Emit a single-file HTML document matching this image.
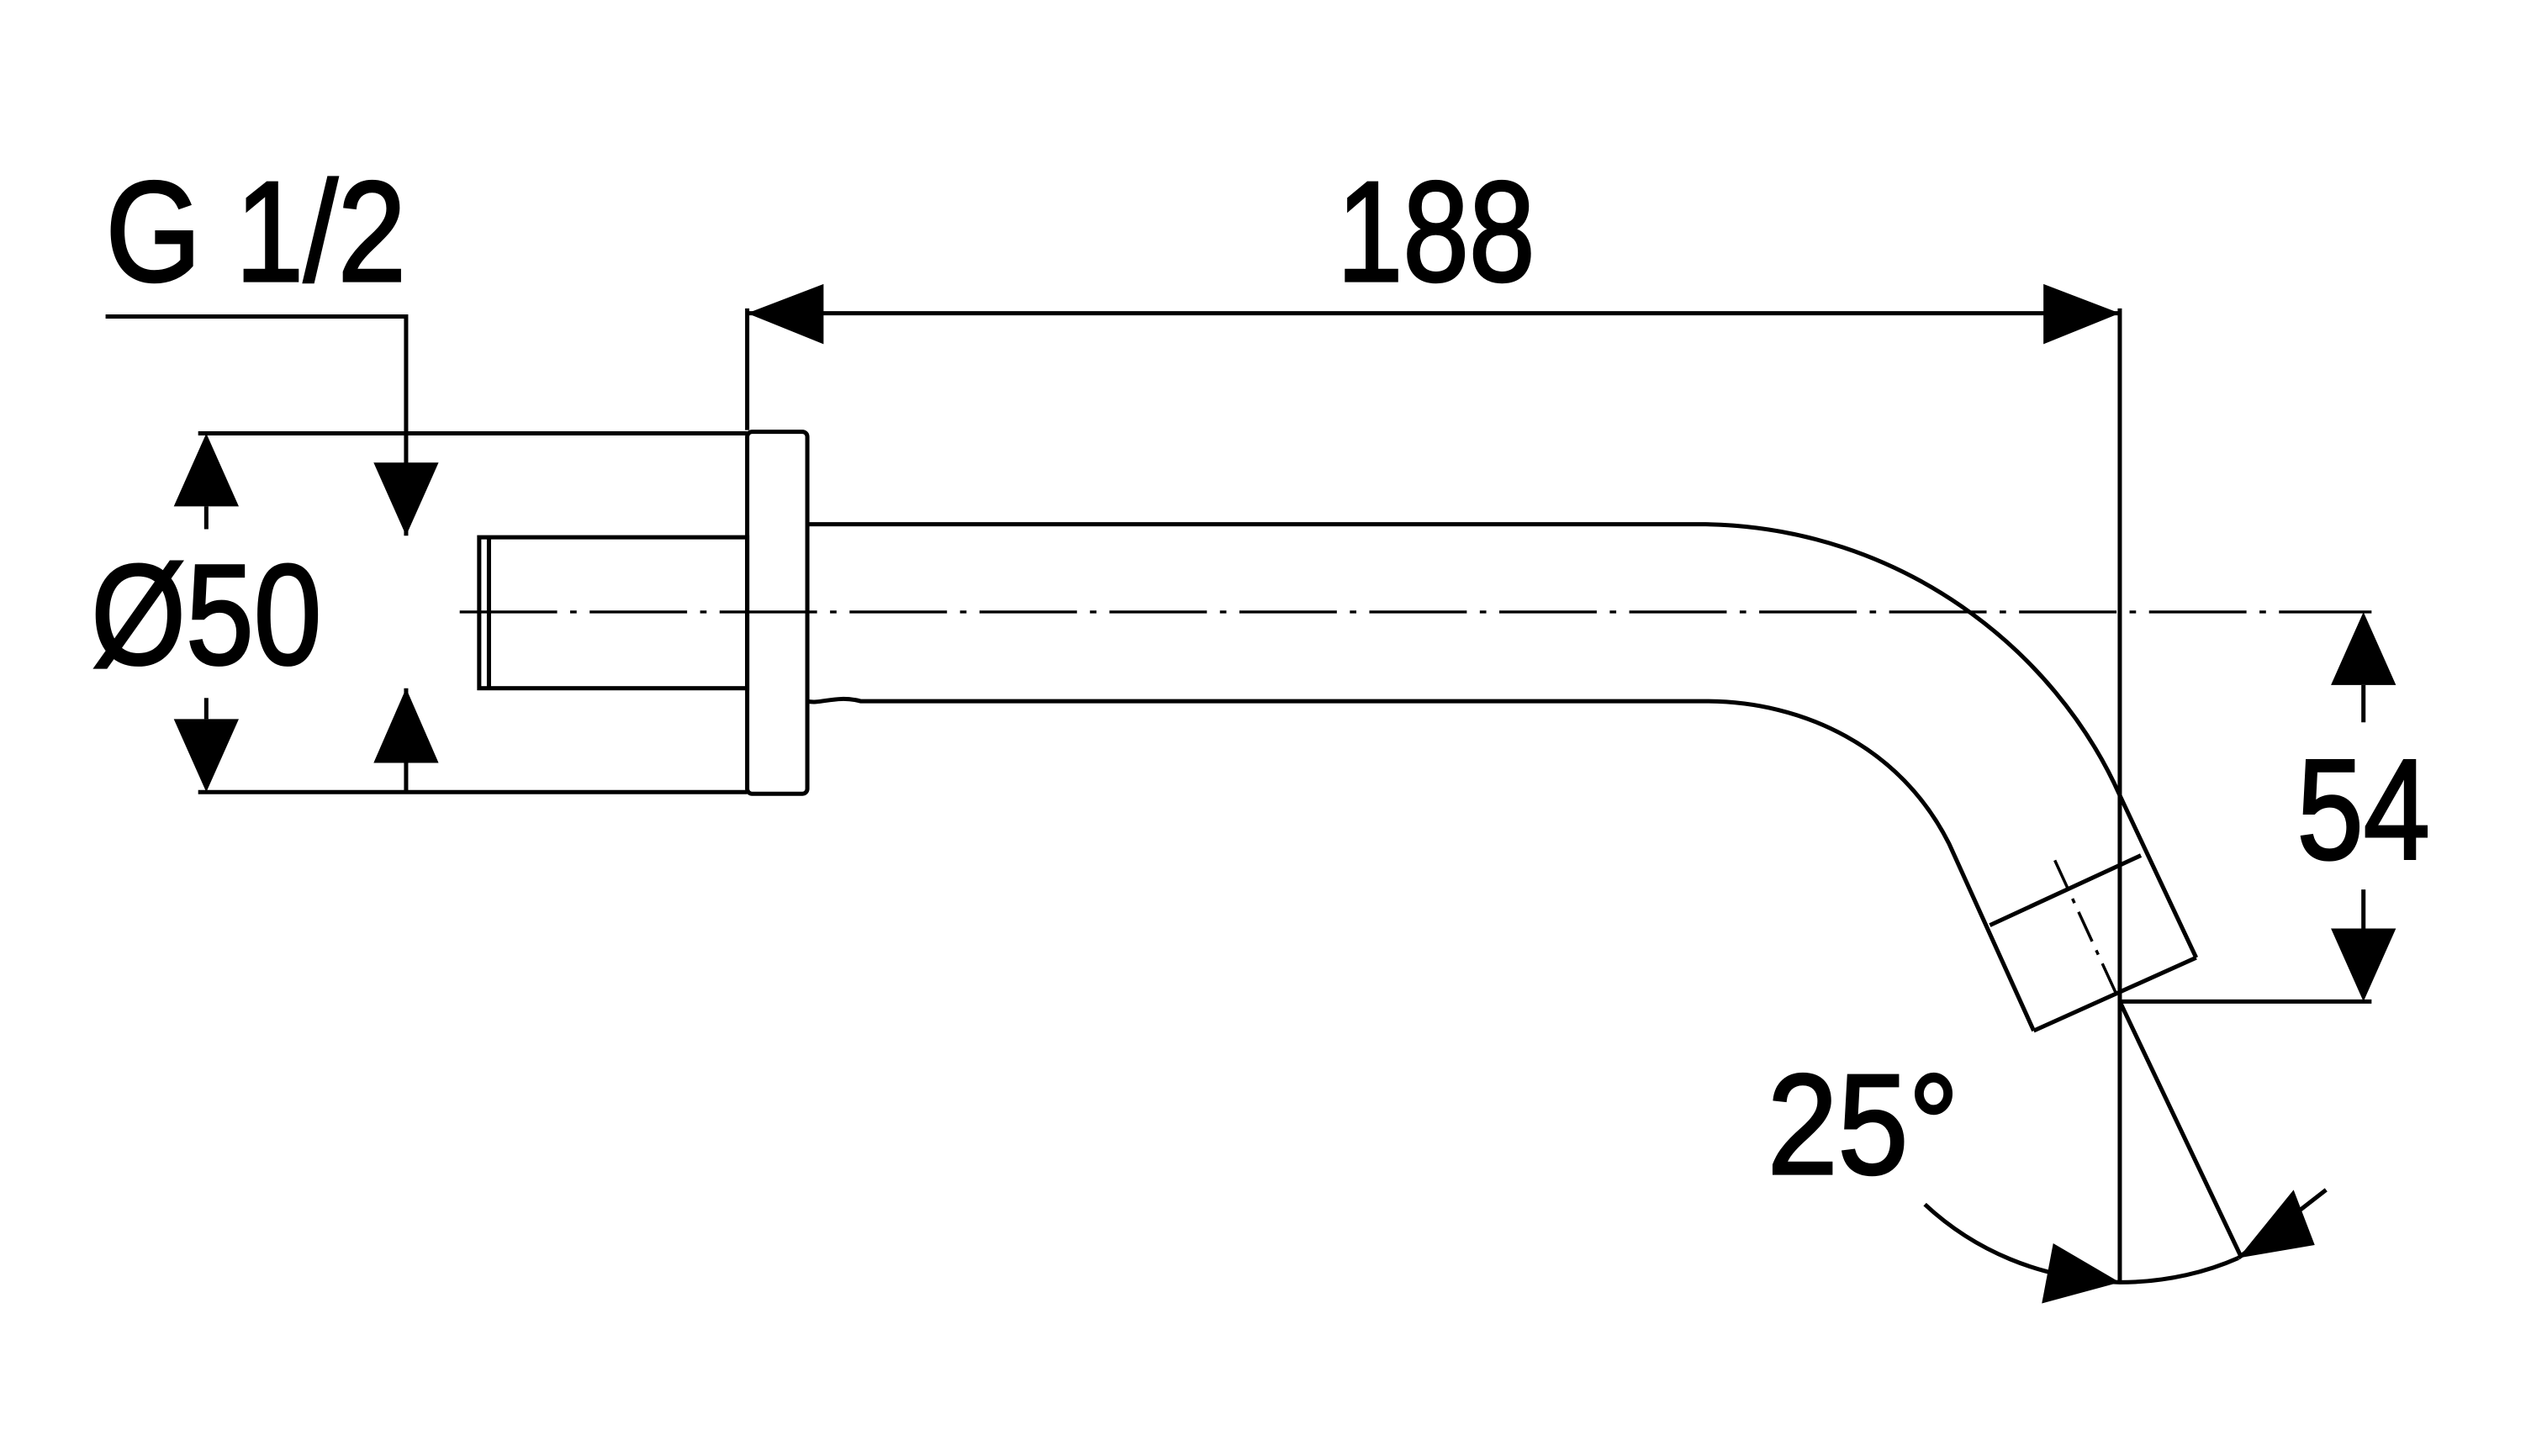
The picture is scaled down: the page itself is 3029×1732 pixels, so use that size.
<!DOCTYPE html>
<html><head><meta charset="utf-8"><style>
html,body{margin:0;padding:0;background:#fff}
svg{display:block}
text{font-family:"Liberation Sans",sans-serif;fill:#000;stroke:#000;stroke-width:1.6}
</style></head><body>
<svg width="3029" height="1732" viewBox="0 0 1568 897" preserveAspectRatio="none" xmlns="http://www.w3.org/2000/svg">
<g fill="none" stroke="#000" stroke-width="2.6">
<polyline points="65,195 250,195 250,330"/>
<line x1="250" y1="424" x2="250" y2="487"/>
<line x1="122" y1="267" x2="460" y2="267"/>
<line x1="122" y1="488" x2="460" y2="488"/>
<line x1="127" y1="312" x2="127" y2="326"/>
<line x1="127" y1="430" x2="127" y2="443"/>
<rect x="295" y="331" width="165" height="93"/>
<line x1="301" y1="331" x2="301" y2="424"/>
<rect x="460" y="266" width="37" height="223" rx="3"/>
<path d="M497,323 L1050,323 C1170,325 1265,400 1305,490 L1352,590"/>
<path d="M497,432 C505,434 515,428 530,432 L1050,432 C1110,432 1170,460 1200,520 L1252,635"/>
<line x1="1252" y1="635" x2="1352" y2="590"/>
<line x1="1225" y1="570" x2="1318" y2="527"/>
<line x1="283" y1="377" x2="1460" y2="377" stroke-dasharray="60,8,4,8" stroke-width="1.8"/>
<line x1="460" y1="190" x2="460" y2="265"/>
<line x1="1305" y1="190" x2="1305" y2="790"/>
<line x1="460" y1="193" x2="1305" y2="193"/>
<line x1="1305" y1="617" x2="1460" y2="617"/>
<line x1="1455" y1="422" x2="1455" y2="445"/>
<line x1="1455" y1="548" x2="1455" y2="572"/>
<line x1="1265" y1="530" x2="1305" y2="617" stroke-dasharray="20,6,3,6" stroke-width="1.8"/>
<line x1="1305" y1="617" x2="1380" y2="775"/>
<path d="M1185,742 C1215,770 1255,788 1305,790 C1335,790 1360,783 1378,775"/>
<line x1="1378" y1="775" x2="1432" y2="733"/>
</g>
<g fill="#000" stroke="none">
<polygon points="250,330 230,285 270,285"/>
<polygon points="250,424 230,470 270,470"/>
<polygon points="127,267 107,312 147,312"/>
<polygon points="127,488 107,443 147,443"/>
<polygon points="460,193 507,175 507,212"/>
<polygon points="1305,193 1258,175 1258,212"/>
<polygon points="1455,377 1435,422 1475,422"/>
<polygon points="1455,617 1435,572 1475,572"/>
<polygon points="1305,790 1264,766 1257,803"/>
<polygon points="1378,775 1425,767 1412,733"/>
</g>
<text x="65" y="173" font-size="88" textLength="185" lengthAdjust="spacingAndGlyphs">G 1/2</text>
<text x="823" y="173" font-size="88" textLength="122" lengthAdjust="spacingAndGlyphs">188</text>
<text x="56" y="409" font-size="88" textLength="142" lengthAdjust="spacingAndGlyphs">Ø50</text>
<text x="1414" y="529" font-size="88" textLength="82" lengthAdjust="spacingAndGlyphs">54</text>
<text x="1088" y="723" font-size="88" textLength="118" lengthAdjust="spacingAndGlyphs">25°</text>
</svg>
</body></html>
